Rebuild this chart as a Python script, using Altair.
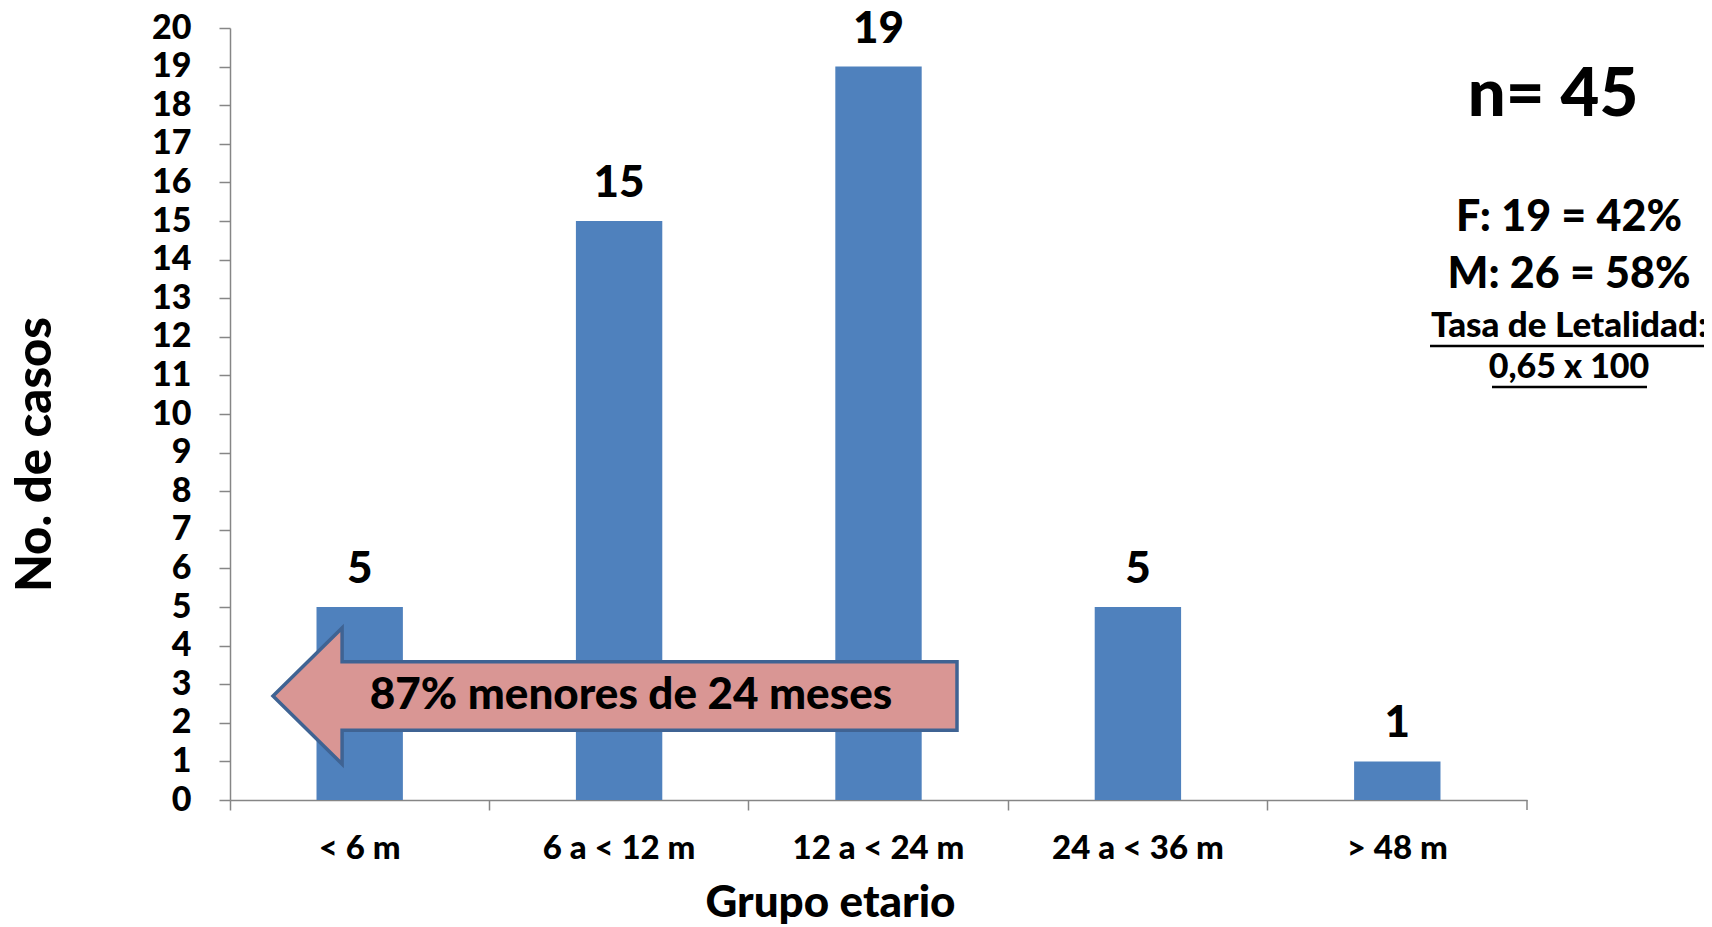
import altair as alt
import pandas as pd

# ---- data ----
categories = ["< 6 m", "6 a < 12 m", "12 a < 24 m", "24 a < 36 m", "> 48 m"]
casos = [5, 15, 19, 5, 1]
y_ticks = list(range(0, 21))

info_big = ["n= 45"]
info_mid = ["F: 19 = 42%", "M: 26 = 58%"]
info_small = ["Tasa de Letalidad:", "0,65 x 100"]
arrow_text = ["87% menores de 24 meses"]

FONT = "Lato"
WT = 900
W, H = 1297, 772
BAR = "#4F81BD"
AX = "#868686"

df = pd.DataFrame({"grupo": categories, "casos": casos})

x_enc = alt.X(
    "grupo:N",
    sort=categories,
    scale=alt.Scale(paddingInner=0, paddingOuter=0),
    axis=alt.Axis(
        title="Grupo etario",
        titleFont=FONT, titleFontSize=44, titleFontWeight=WT, titleColor="black",
        titleX=600, titleY=103, titleBaseline="middle", titleAlign="center",
        labelFont=FONT, labelFontSize=33, labelFontWeight=WT, labelColor="black",
        labelAngle=0, labelBaseline="middle", labelPadding=38,
        bandPosition=0, tickSize=10, tickColor=AX, tickWidth=1.5,
        domainColor=AX, domainWidth=1.5, labelFlush=False, labelOverlap=False,
    ),
)
y_enc = alt.Y(
    "casos:Q",
    scale=alt.Scale(domain=[0, 20], nice=False),
    axis=alt.Axis(
        values=y_ticks,
        title="No. de casos",
        titleFont=FONT, titleFontSize=49, titleFontWeight=WT, titleColor="black",
        titleX=-195, titleY=426, titleBaseline="middle", titleAlign="center", titleAngle=-90,
        labelFont=FONT, labelFontSize=34, labelFontWeight=WT, labelColor="black",
        labelPadding=28, tickSize=11, tickColor=AX, tickWidth=1.5,
        domainColor=AX, domainWidth=1.5, grid=False, labelFlush=False,
        labelOverlap=False, labelSeparation=0, labelBound=False,
    ),
)

base = alt.Chart(df)
bars = base.mark_bar(color=BAR, width=alt.RelativeBandSize(0.333)).encode(x=x_enc, y=y_enc)
labels = base.mark_text(
    font=FONT, fontSize=44, fontWeight=WT, color="black", baseline="middle", dy=-37
).encode(x=x_enc, y=y_enc, text="casos:Q")

# closing tick at the right end of the category axis
end_tick = alt.Chart(pd.DataFrame({"k": [0]})).mark_rule(color=AX, strokeWidth=1.5).encode(
    x=alt.value(W), y=alt.value(H), y2=alt.value(H + 10)
)

# arrow
arrow_path = "M -1 0 L -0.798 -0.199 L -0.798 -0.1 L 1 -0.1 L 1 0.1 L -0.798 0.1 L -0.798 0.199 Z"
arrow = alt.Chart(pd.DataFrame({"t": arrow_text})).mark_point(
    shape=arrow_path, filled=True, fill="#D99694", fillOpacity=1,
    stroke="#3F6393", strokeWidth=3.5, size=684 * 684, opacity=1,
).encode(x=alt.value(385), y=alt.value(668))
arrow_lbl = alt.Chart(pd.DataFrame({"t": arrow_text})).mark_text(
    font=FONT, fontSize=44, fontWeight=WT, color="black", baseline="middle", align="center"
).encode(x=alt.value(401), y=alt.value(668), text="t:N")

# right-side annotations
def txt(t, size, x, y):
    return alt.Chart(pd.DataFrame({"t": [t]})).mark_text(
        font=FONT, fontSize=size, fontWeight=WT, color="black", baseline="middle", align="center"
    ).encode(x=alt.value(x), y=alt.value(y), text="t:N")

n_txt = txt(info_big[0], 67, 1323, 68)
f_txt = txt(info_mid[0], 43, 1339, 190)
m_txt = txt(info_mid[1], 43, 1339, 247)
tasa_txt = txt(info_small[0], 35, 1339, 298)
val_txt = txt(info_small[1], 34, 1339, 340)
ul1 = alt.Chart(pd.DataFrame({"k": [0]})).mark_rule(color="black", strokeWidth=2.5).encode(
    x=alt.value(1200), x2=alt.value(1479), y=alt.value(318)
)
ul2 = alt.Chart(pd.DataFrame({"k": [0]})).mark_rule(color="black", strokeWidth=2.5).encode(
    x=alt.value(1262), x2=alt.value(1417), y=alt.value(359)
)

chart = (
    alt.layer(bars, labels, end_tick, arrow, arrow_lbl, n_txt, f_txt, m_txt, tasa_txt, val_txt, ul1, ul2)
    .properties(
        width=W, height=H,
        autosize=alt.AutoSizeParams(type="none"),
        padding={"left": 222, "top": 20, "right": 177, "bottom": 126},
        background="white",
    )
    .configure_view(stroke=None)
    .configure_axis(labelOverlap=False)
)

chart.save("out.html", embed_options={"renderer": "svg", "actions": False})
